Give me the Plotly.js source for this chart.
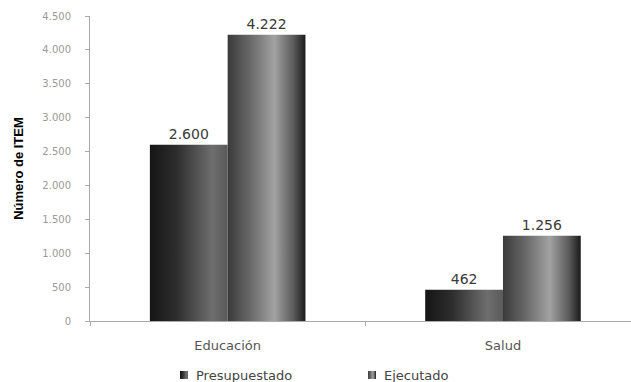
<!DOCTYPE html>
<html><head><meta charset="utf-8">
<script src="https://cdn.plot.ly/plotly-3.0.1.min.js"></script>
<style>html,body{margin:0;padding:0;background:#fff}#chart{width:631px;height:382px}</style>
</head><body><div id="chart"></div>
<script>
const categories = ["Educación", "Salud"];
const presupuestado = [2600, 462];
const ejecutado = [4222, 1256];
const seriesNames = ["Presupuestado", "Ejecutado"];
const tickVals = [0, 500, 1000, 1500, 2000, 2500, 3000, 3500, 4000, 4500];

function label(v){ return v.toString().replace(/\B(?=(\d{3})+(?!\d))/g, "."); }

const traces = [
  {type:"bar", name:seriesNames[0], x:categories, y:presupuestado,
   text:presupuestado.map(label), textposition:"outside", cliponaxis:false,
   textfont:{family:"DejaVu Sans", size:14, color:"#3a3a3a"},
   marker:{color:"#3a3a3a", line:{width:0}}},
  {type:"bar", name:seriesNames[1], x:categories, y:ejecutado,
   text:ejecutado.map(label), textposition:"outside", cliponaxis:false,
   textfont:{family:"DejaVu Sans", size:14, color:"#3a3a3a"},
   marker:{color:"#777", line:{width:0}}}
];

const layout = {
  width:631, height:382,
  margin:{l:90, r:0, t:16, b:61},
  paper_bgcolor:"#fff", plot_bgcolor:"#fff",
  separators:",.",
  bargap:0.435, bargroupgap:0,
  showlegend:true,
  legend:{orientation:"h", x:0.122, xanchor:"left", yref:"container", y:0, yanchor:"bottom",
          font:{family:"DejaVu Sans", size:13, color:"#444"},
          entrywidth:143, entrywidthmode:"pixels", traceorder:"normal"},
  xaxis:{range:[-0.5,1.465], showline:true, linecolor:"#aaa", linewidth:1,
         ticks:"outside", tickson:"boundaries", ticklen:4, tickcolor:"#aaa",
         showgrid:false, zeroline:false,
         tickfont:{family:"DejaVu Sans", size:13, color:"#555"}, ticklabelstandoff:12},
  yaxis:{range:[0,4500], tickvals:tickVals, tickformat:",d",
         showline:true, linecolor:"#aaa", linewidth:1, ticks:"outside", ticklen:4, tickcolor:"#aaa",
         showgrid:false, zeroline:false,
         tickfont:{family:"DejaVu Sans", size:10, color:"#999"}, ticklabelstandoff:12,
         title:{text:"Número de ITEM", font:{family:"Liberation Sans, Arial", size:13, color:"#000", weight:"bold"}, standoff:15}}
};

Plotly.newPlot("chart", traces, layout, {staticPlot:true, displayModeBar:false}).then(gd => {
  const svg = gd.querySelector("svg.main-svg");
  const ns = "http://www.w3.org/2000/svg";
  let defs = svg.querySelector("defs");
  if(!defs){ defs = document.createElementNS(ns,"defs"); svg.insertBefore(defs, svg.firstChild); }
  const grads = {
    g0:[[0,"#151515"],[0.35,"#2e2e2e"],[0.8,"#6e6e6e"],[1,"#5a5a5a"]],
    g1:[[0,"#3a3a3a"],[0.3,"#6a6a6a"],[0.6,"#a2a2a2"],[0.85,"#5a5a5a"],[1,"#1a1a1a"]]
  };
  for(const id in grads){
    const lg = document.createElementNS(ns,"linearGradient");
    lg.setAttribute("id", id); lg.setAttribute("x1","0"); lg.setAttribute("x2","1");
    lg.setAttribute("y1","0"); lg.setAttribute("y2","0");
    grads[id].forEach(([o,c]) => { const s=document.createElementNS(ns,"stop"); s.setAttribute("offset",o); s.setAttribute("stop-color",c); lg.appendChild(s); });
    defs.appendChild(lg);
  }
  gd.querySelectorAll(".barlayer .trace").forEach((t,i) => {
    t.querySelectorAll(".point path").forEach(p => { p.style.fill = "url(#g"+i+")"; });
  });
  gd.querySelectorAll(".legend .traces").forEach((t,i) => {
    t.querySelectorAll(".legendpoints path").forEach(p => {
      p.setAttribute("d","M12,4H4V-4H12Z");
      p.style.fill = "url(#g"+i+")";
    });
  });
  const leg = gd.querySelector("g.legend");
  if(leg){
    const tr = leg.getAttribute("transform") || "";
    const m = tr.match(/translate\(\s*([-\d.]+)[ ,]+([-\d.]+)\s*\)/);
    if(m) leg.setAttribute("transform", "translate(" + m[1] + "," + (parseFloat(m[2]) + 8) + ")");
  }
});
</script></body></html>
